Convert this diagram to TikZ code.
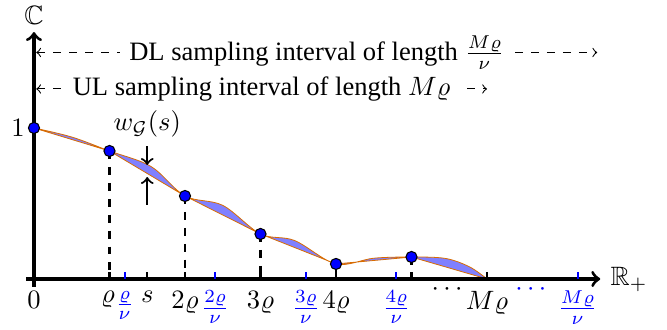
\documentclass[tikz,border=0pt]{standalone}
\usepackage{amssymb}
\usepackage{fontspec}
\setmainfont{Liberation Serif}
\usetikzlibrary{positioning}

\tikzset{
  axis/.style={line width=1.2pt, ->},
  sample/.style={circle, draw, fill=blue, inner sep=0pt, minimum size=4.2pt},
  guide/.style={thick, dashed},
  tickmark/.style={thick},
  bluetick/.style={thick, blue},
}

\begin{document}
\begin{tikzpicture}[font=\fontsize{10}{12}\selectfont]
  \useasboundingbox (-0.45,-0.675) rectangle (8.384,3.695);
  \coordinate (O) at (0,0);
  \coordinate (xa) at (-0.1,0); \coordinate (xb) at (7.5,0);
  \coordinate (ya) at (0,-0.1); \coordinate (yb) at (0,3.27);
  \coordinate (p0) at (0,2); \coordinate (p1) at (1,1.695); \coordinate (p2) at (2,1.099);
  \coordinate (p3) at (3,0.596); \coordinate (p4) at (4,0.199); \coordinate (p5) at (5,0.291);
  \coordinate (p6) at (6,0);
  % error band between true curve and linear interpolation
  \filldraw[fill=blue!50, draw=orange!85!black, line width=0.3pt]
    plot[smooth, tension=0.55] coordinates {(0,2) (0.5,1.88) (1,1.695) (1.55,1.49) (2,1.099)
      (2.5,0.975) (3,0.596) (3.45,0.51) (4,0.199) (4.5,0.275) (5,0.291) (5.45,0.272) (5.77,0.16) (6,0)}
    -- (p5) -- (p4) -- (p3) -- (p2) -- (p1) -- (p0) -- cycle;
  % axes
  \draw[axis] (xa) -- (xb) node[right] (re) {$\mathbb{R}_+$};
  \draw[axis] (ya) -- (yb);
  \node[inner sep=0pt] (cc) at (0,3.49) {$\mathbb{C}$};
  % ticks
  \foreach \k in {1,...,6} \draw[tickmark] (\k,0) -- ++(0,0.09);
  \draw[tickmark] (1.5,0) -- ++(0,0.09);
  \foreach \k in {1.2,2.4,3.6,4.8,7.2} \draw[bluetick] (\k,0) -- ++(0,0.09);
  % guides
  \foreach \k in {1,...,5} \draw[guide] (p\k) -- (\k,0);
  \foreach \k in {0,...,5} \node[sample] at (p\k) {};
  % labels
  \node[left] (one) at (p0) {$1$};
  \node[below=1pt] (l0) at (0,0) {$0$};
  \node[below=1pt] (l1) at (0.98,0) {$\varrho$};
  \node[below=1pt] (ls) at (1.5,0) {$s$};
  \node[below=1pt] (l2) at (2,0) {$2\varrho$};
  \node[below=1pt] (l3) at (3,0) {$3\varrho$};
  \node[below=1pt] (l4) at (4,0) {$4\varrho$};
  \node[below=1pt] (l6) at (6,0) {$M\varrho$};
  \node[inner sep=0pt] (dots1) at (5.47,-0.146) {$\cdots$};
  \node[inner sep=0pt, blue] (dots2) at (6.58,-0.146) {$\cdots$};
  \foreach \n/\k/\t in {b1/1.2/\varrho, b2/2.4/2\varrho, b3/3.6/3\varrho, b4/4.8/4\varrho, b6/7.2/M\varrho}
    \node[below=1pt, blue] (\n) at (\k,0) {$\frac{\t}{\nu}$};
  % width marker
  \coordinate (wa) at (1.5,1.76); \coordinate (wb) at (1.5,1.51);
  \coordinate (wc) at (1.5,0.98); \coordinate (wd) at (1.5,1.35);
  \draw[->, thick] (wa) -- (wb);
  \draw[->, thick] (wc) -- (wd);
  \node[above=0pt of wa] (wlab) {$w_{\mathcal{G}}(s)$};
  % sampling intervals
  \coordinate (dla) at (0.03,3); \coordinate (dlb) at (7.46,3);
  \coordinate (ula) at (0.03,2.517); \coordinate (ulb) at (6,2.517);
  \draw[<->, dashed] (dla) -- node[fill=white] (dl) {DL sampling interval of length $\frac{M\varrho}{\nu}$} (dlb);
  \draw[<->, dashed] (ula) -- node[fill=white] (ul) {UL sampling interval of length $M\varrho$} (ulb);
\end{tikzpicture}
\end{document}
